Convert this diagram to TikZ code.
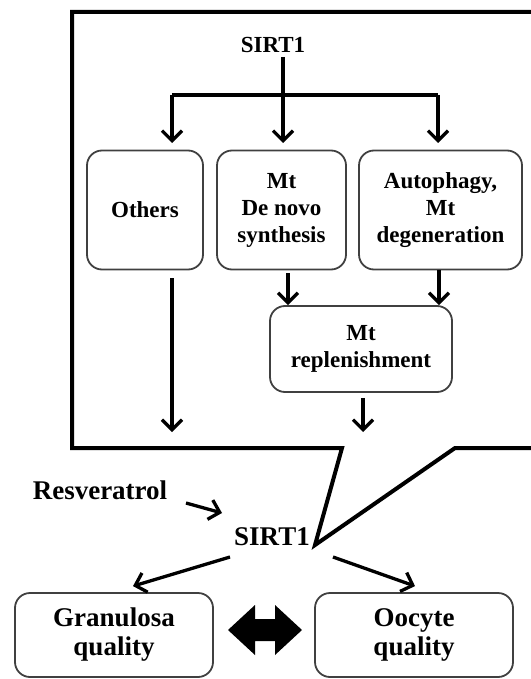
\documentclass[tikz,border=0pt]{standalone}
\usepackage{fontspec}
\setmainfont{Liberation Serif}
\usetikzlibrary{arrows.meta}
\begin{document}
\begin{tikzpicture}[x=1pt,y=-1pt,
  box/.style={draw=black!75, line width=1.8pt, rounded corners=15pt, align=center, inner sep=0pt},
  toptxt/.style={font=\fontsize{23}{27}\selectfont\bfseries},
  bottxt/.style={font=\fontsize{27}{29}\selectfont\bfseries},
  arr/.style={line width=3.3pt, -{Straight Barb[length=10pt,width=20pt,line width=3.3pt]}},
  ln/.style={line width=3.3pt},
  callout/.style={line width=4pt, line join=miter}]
\useasboundingbox (0,0) rectangle (530,679);
% callout outline
\draw[callout] (540,12) -- (72,12) -- (72,448) -- (342,448) -- (315,545) -- (455,448) -- (540,448);
% top part
\node[toptxt, inner sep=1pt] (s1) at (273,45) {SIRT1};
\node[box, toptxt, minimum width=116pt, minimum height=119pt] (ot) at (145,210) {Others};
\node[box, toptxt, minimum width=129pt, minimum height=119pt] (dn) at (281.5,210) {Mt\\De novo\\synthesis};
\node[box, toptxt, minimum width=163pt, minimum height=119pt] (au) at (440.5,210) {Autophagy,\\Mt\\degeneration};
\node[box, toptxt, minimum width=182pt, minimum height=86pt] (rp) at (361,349) {Mt\\replenishment};
\coordinate (hl) at (172,95);
\coordinate (hc) at (283,95);
\coordinate (hr) at (438,95);
\coordinate (s1s) at (283,57);
\draw[ln] (hl) -- (hr);
\draw[arr] (s1s) -- (283,143);
\draw[arr] (hl) -- (172,143);
\draw[arr] (hr) -- (438,143);
\draw[arr] ([xshift=6.5pt,yshift=-3pt]dn.south) -- ([xshift=-73pt]rp.north);
\draw[arr] ([xshift=-1.5pt]au.south) -- ([xshift=78pt]rp.north);
\coordinate (oe) at (172,432);
\coordinate (re) at (363,432);
\draw[arr] ([xshift=27pt,yshift=-8pt]ot.south) -- (oe);
\draw[arr] ([xshift=2pt,yshift=-5pt]rp.south) -- (re);
% bottom part
\node[bottxt, inner sep=1pt] (res) at (100,490) {Resveratrol};
\node[bottxt, inner sep=1pt] (sb) at (272,537) {SIRT1};
\node[box, bottxt, minimum width=198pt, minimum height=84pt] (gr) at (114,635) {Granulosa\\quality};
\node[box, bottxt, minimum width=198pt, minimum height=84pt] (oc) at (414,635) {Oocyte\\quality};
\draw[arr] ([xshift=86pt,yshift=-13pt]res.center) -- ([xshift=-50pt,yshift=24pt]sb.center);
\draw[arr] ([xshift=-42pt,yshift=-20pt]sb.center) -- ([xshift=19pt,yshift=6pt]gr.north);
\draw[arr] ([xshift=61pt,yshift=-20pt]sb.center) -- ([xshift=1pt,yshift=6pt]oc.north);
% double arrow
\fill (228,630) -- (255,605) -- (255,619) -- (275,619) -- (275,605) -- (302,630) -- (275,655) -- (275,641) -- (255,641) -- (255,655) -- cycle;
\end{tikzpicture}
\end{document}
